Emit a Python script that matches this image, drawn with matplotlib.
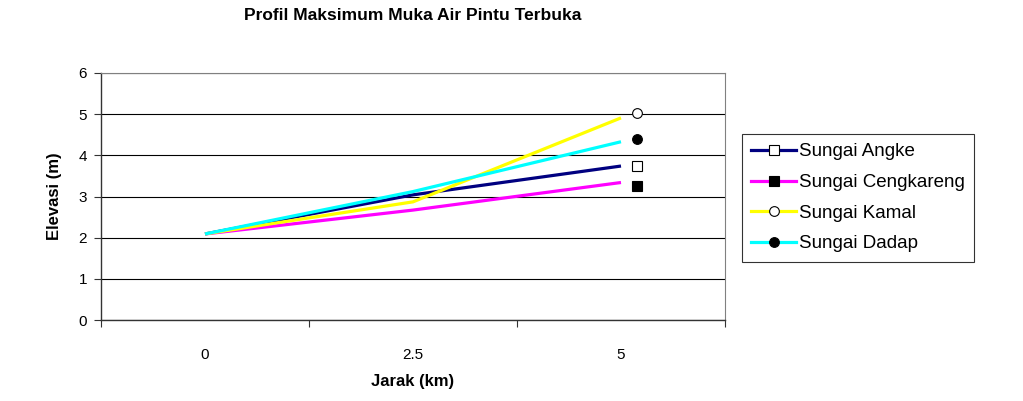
import matplotlib
matplotlib.use("Agg")
import matplotlib.pyplot as plt
from matplotlib.lines import Line2D

plt.rcParams['font.family'] = ['Liberation Sans', 'DejaVu Sans']

categories = ['0', '2.5', '5']
series_names = ['Sungai Angke', 'Sungai Cengkareng', 'Sungai Kamal', 'Sungai Dadap']
angke = [2.09, 3.04, 3.74]
cengkareng = [2.09, 2.67, 3.34]
kamal = [2.09, 2.87, 4.91]
dadap = [2.09, 3.12, 4.33]
# separate marker points drawn beside the last category
marker_values = [3.74, 3.26, 5.04, 4.39]

colors = ['#000080', '#FF00FF', '#FFFF00', '#00FFFF']
markers = ['s', 's', 'o', 'o']
mfaces = ['white', 'black', 'white', 'black']

fig = plt.figure(figsize=(10.23, 4.01), dpi=100)
ax = fig.add_axes([101/1023, 1-320/401, (725-101)/1023, (320-73)/401])

xs = list(range(len(categories)))
for vals, c in zip([angke, cengkareng, kamal, dadap], colors):
    ax.plot(xs, vals, color=c, lw=2.3, solid_capstyle='butt', zorder=3)

mx = xs[-1] + 0.075
for v, m, f in zip(marker_values, markers, mfaces):
    ax.plot([mx], [v], linestyle='none', marker=m, markersize=7,
            markerfacecolor=f, markeredgecolor='black', markeredgewidth=0.8, zorder=4)

ax.set_xlim(-0.5, 2.5)
ax.set_ylim(0, 6)
ax.set_yticks(range(0, 7))
ax.set_xticks(xs)
ax.set_xticklabels(categories, fontsize=11)
ax.set_xticks([-0.5, 0.5, 1.5, 2.5], minor=True)
ax.tick_params(axis='x', which='major', length=0, pad=20)
ax.tick_params(axis='x', which='minor', length=5, width=0.8, color='#333333', direction='out')
ax.tick_params(axis='y', length=5, width=0.8, color='#333333', labelsize=11, pad=5)

ax.grid(axis='y', color='black', lw=0.8, zorder=1)
ax.set_axisbelow(True)
for s in ['left', 'bottom']:
    ax.spines[s].set_color('#333333')
    ax.spines[s].set_linewidth(1.0)
for s in ['top', 'right']:
    ax.spines[s].set_color('#808080')
    ax.spines[s].set_linewidth(0.8)

ax.set_xlabel('Jarak (km)', fontsize=12, fontweight='bold', labelpad=9)
ax.set_ylabel('Elevasi (m)', fontsize=12, fontweight='bold', labelpad=12)
fig.text(413/1023, 1-16/401, 'Profil Maksimum Muka Air Pintu Terbuka', ha='center', va='center',
         fontsize=12.5, fontweight='bold')

handles = [Line2D([0], [0], color=c, lw=2.3, marker=m, markersize=7,
                  markerfacecolor=f, markeredgecolor='black', markeredgewidth=0.8)
           for c, m, f in zip(colors, markers, mfaces)]
leg = fig.legend(handles, series_names, loc='upper left',
                 bbox_to_anchor=(742/1023, 1-134/401), bbox_transform=fig.transFigure,
                 fontsize=13.5, frameon=True, fancybox=False, edgecolor='black',
                 borderpad=0.5, labelspacing=0.72, handlelength=2.4, handletextpad=0.15,
                 borderaxespad=0)
leg.get_frame().set_linewidth(0.8)

fig.savefig('out.png', dpi=100)
